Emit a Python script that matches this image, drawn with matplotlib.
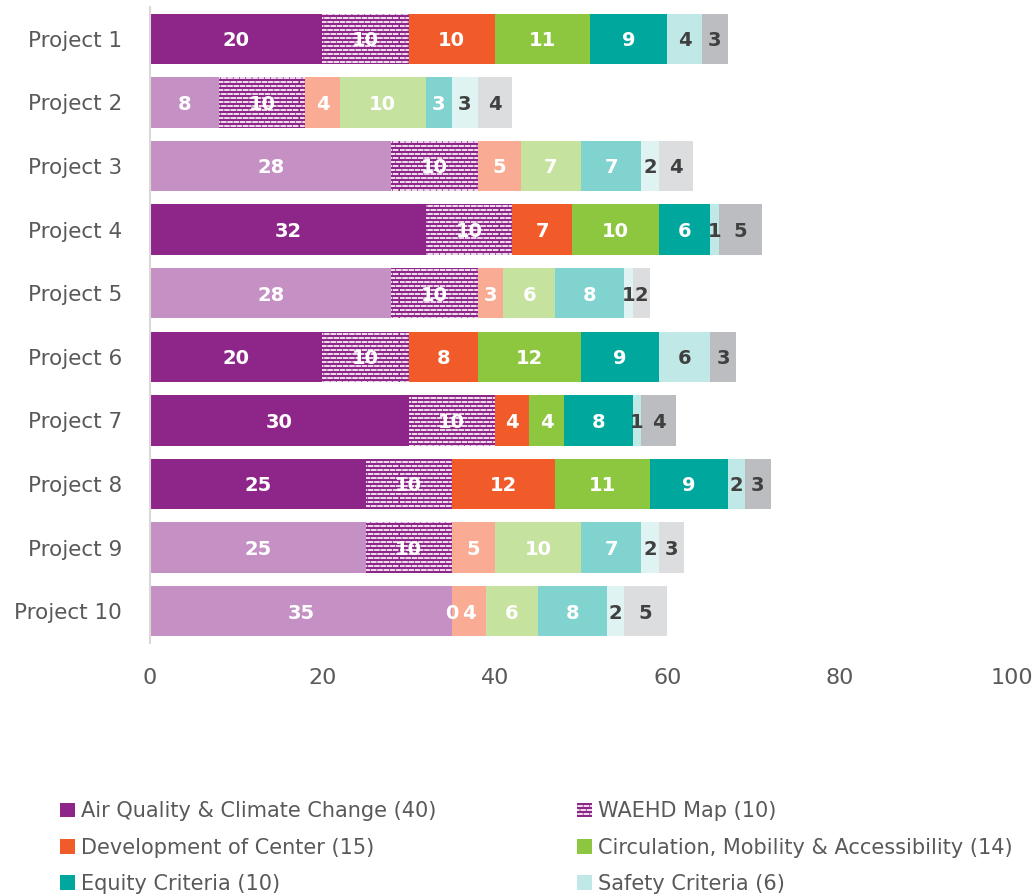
import warnings
warnings.filterwarnings("ignore")
import matplotlib
matplotlib.use("Agg")
import matplotlib.pyplot as plt
import matplotlib.hatch as mhatch
from matplotlib.path import Path
from matplotlib.patches import Patch
import numpy as np

projects = ["Project 1", "Project 2", "Project 3", "Project 4", "Project 5",
            "Project 6", "Project 7", "Project 8", "Project 9", "Project 10"]
series_names = ["Air Quality & Climate Change (40)", "WAEHD Map (10)",
                "Development of Center (15)", "Circulation, Mobility & Accessibility (14)",
                "Equity Criteria (10)", "Safety Criteria (6)", "Other (5)"]
air_quality = [20, 8, 28, 32, 28, 20, 30, 25, 25, 35]
waehd_map = [10, 10, 10, 10, 10, 10, 10, 10, 10, 0]
development = [10, 4, 5, 7, 3, 8, 4, 12, 5, 4]
circulation = [11, 10, 7, 10, 6, 12, 4, 11, 10, 6]
equity = [9, 3, 7, 6, 8, 9, 8, 9, 7, 8]
safety = [4, 3, 2, 1, 1, 6, 1, 2, 2, 2]
other = [3, 4, 4, 5, 2, 3, 4, 3, 3, 5]
highlighted = [True, False, False, True, False, True, True, True, False, False]
x_ticks = [0, 20, 40, 60, 80, 100]

dark_colors = ["#8E2589", "#8E2589", "#F15A29", "#8DC63F", "#00A79D", "#BFE8E6", "#BCBDC0"]
light_colors = ["#C590C4", "#8E2589", "#F9AC93", "#C6E29F", "#80D3CE", "#DFF3F2", "#DCDDDE"]
label_colors = ["white", "white", "white", "white", "white", "#404040", "#404040"]


class DashHatch(mhatch.HatchPatternBase):
    """Brick-like pattern of short horizontal dashes (hatch char 'd')."""
    def __init__(self, hatch, density):
        segs = []
        if hatch.count('d'):
            rows, cols, frac = 25, 16, 0.62
            p = 1.0 / cols
            for r in range(rows):
                yv = (r + 0.5) / rows
                off = 0.0 if r % 2 == 0 else 0.5 * p
                for j in range(cols):
                    a = j * p + off
                    b = a + frac * p
                    if b <= 1.0:
                        segs.append((a, b, yv))
                    else:
                        segs.append((a, 1.0, yv))
                        segs.append((0.0, b - 1.0, yv))
        self.segs = segs
        self.num_vertices = len(segs) * 2

    def set_vertices_and_codes(self, vertices, codes):
        for i, (a, b, yv) in enumerate(self.segs):
            vertices[2 * i] = (a, yv)
            vertices[2 * i + 1] = (b, yv)
            codes[2 * i] = Path.MOVETO
            codes[2 * i + 1] = Path.LINETO


mhatch._hatch_types.append(DashHatch)

plt.rcParams['font.family'] = ['DejaVu Sans']
plt.rcParams['hatch.linewidth'] = 1.2

fig = plt.figure(figsize=(10.36, 8.96), dpi=100)
ax = fig.add_axes([150/1036, 1-643/896, (1012-150)/1036, (643-7)/896])

data = [air_quality, waehd_map, development, circulation, equity, safety, other]
y = np.arange(len(projects))
left = np.zeros(len(projects))
for si, vals in enumerate(data):
    vals = np.array(vals, dtype=float)
    cols = [dark_colors[si] if h else light_colors[si] for h in highlighted]
    hatch = "d" if si == 1 else None
    ax.barh(y, vals, left=left, height=0.79, color=cols,
            edgecolor="white" if si == 1 else "none", linewidth=0, hatch=hatch)
    for yi, (l, v) in enumerate(zip(left, vals)):
        ax.text(l + v / 2, yi + 0.03, f"{int(v)}", ha="center", va="center",
                color=label_colors[si], fontsize=14, fontweight="bold")
    left += vals

ax.set_xlim(0, 100)
ax.set_ylim(9.5, -0.5)
ax.set_yticks(y)
ax.set_yticklabels(projects, fontsize=15.5, color="#595959")
ax.set_xticks(x_ticks)
ax.set_xticklabels([str(t) for t in x_ticks], fontsize=16, color="#595959")
ax.tick_params(axis="both", length=0)
ax.tick_params(axis="x", pad=18)
ax.tick_params(axis="y", pad=20)
for s in ["top", "right", "bottom"]:
    ax.spines[s].set_visible(False)
ax.spines["left"].set_color("#D9D9D9")
ax.spines["left"].set_linewidth(1.5)

handles = []
for si, name in enumerate(series_names[:6]):
    if si == 1:
        handles.append(Patch(facecolor=dark_colors[si], edgecolor="white", linewidth=0,
                             hatch="d", label=name))
    else:
        handles.append(Patch(facecolor=dark_colors[si], edgecolor="none", label=name))
order = [0, 2, 4, 1, 3, 5]
handles = [handles[i] for i in order]
leg = fig.legend(handles=handles, loc="upper left", bbox_to_anchor=(50/1036, 1-791/896),
                 ncol=2, frameon=False, fontsize=15, handlelength=0.7, handleheight=0.7,
                 handletextpad=0.3, labelspacing=0.78, columnspacing=6.75, borderpad=0)
for t in leg.get_texts():
    t.set_color("#595959")

fig.savefig("out.png", dpi=100)
